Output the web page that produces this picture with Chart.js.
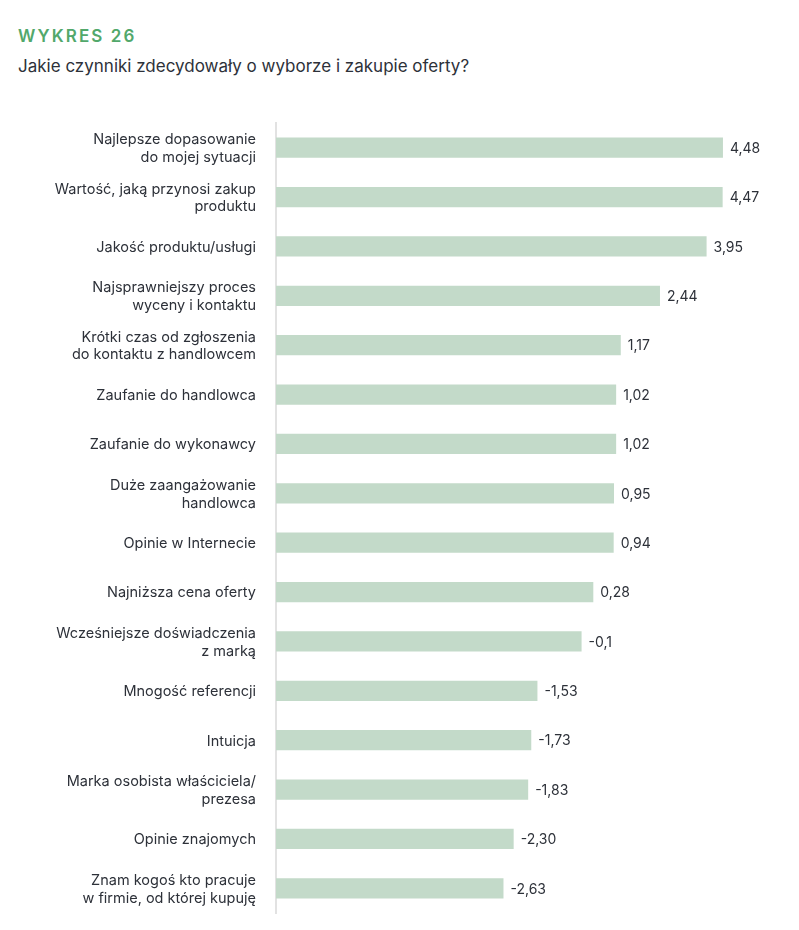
<!DOCTYPE html>
<html lang="pl">
<head>
    <meta charset="UTF-8">
    <title>Wykres 26</title>
    <script src="https://cdn.jsdelivr.net/npm/chart.js"></script>
    <style>
        body { margin: 0; background: #fff; font-family: Inter, sans-serif; }
        .wrap { position: relative; width: 799px; height: 930px; }
        .kicker { position: absolute; left: 18px; top: 26px; font-size: 17px; font-weight: 600; letter-spacing: 2.1px; color: #52a86b; }
        .question { position: absolute; left: 18px; top: 56px; font-size: 17px; color: #2d3139; }
        canvas { position: absolute; left: 0; top: 0; }
    </style>
</head>
<body>
<div class="wrap">
    <div class="kicker">WYKRES 26</div>
    <div class="question">Jakie czynniki zdecydowały o wyborze i zakupie oferty?</div>
    <canvas id="chart" width="799" height="930"></canvas>
</div>
<script>
const factors = [
    ['Najlepsze dopasowanie', 'do mojej sytuacji'],
    ['Wartość, jaką przynosi zakup', 'produktu'],
    'Jakość produktu/usługi',
    ['Najsprawniejszy proces', 'wyceny i kontaktu'],
    ['Krótki czas od zgłoszenia', 'do kontaktu z handlowcem'],
    'Zaufanie do handlowca',
    'Zaufanie do wykonawcy',
    ['Duże zaangażowanie', 'handlowca'],
    'Opinie w Internecie',
    'Najniższa cena oferty',
    ['Wcześniejsze doświadczenia', 'z marką'],
    'Mnogość referencji',
    'Intuicja',
    ['Marka osobista właściciela/', 'prezesa'],
    'Opinie znajomych',
    ['Znam kogoś kto pracuje', 'w firmie, od której kupuję']
];
const scores = [4.48, 4.47, 3.95, 2.44, 1.17, 1.02, 1.02, 0.95, 0.94, 0.28, -0.1, -1.53, -1.73, -1.83, -2.30, -2.63];
const scoreLabels = ['4,48', '4,47', '3,95', '2,44', '1,17', '1,02', '1,02', '0,95', '0,94', '0,28', '-0,1', '-1,53', '-1,73', '-1,83', '-2,30', '-2,63'];

// bars start from the left edge of the scale, not from zero
const scaleMin = -10;
const scaleMax = 5;

const valueLabels = {
    id: 'valueLabels',
    afterDatasetsDraw(chart) {
        const ctx = chart.ctx;
        const meta = chart.getDatasetMeta(0);
        ctx.save();
        ctx.font = '14px Inter, sans-serif';
        ctx.fillStyle = '#2d3139';
        ctx.textAlign = 'left';
        ctx.textBaseline = 'middle';
        meta.data.forEach((bar, i) => {
            ctx.fillText(scoreLabels[i], bar.x + 7, bar.y + 1);
        });
        ctx.restore();
    }
};

new Chart(document.getElementById('chart'), {
    type: 'bar',
    data: {
        labels: factors,
        datasets: [{
            data: scores,
            base: scaleMin,
            backgroundColor: '#c3dac9',
            barPercentage: 0.41,
            categoryPercentage: 1
        }]
    },
    options: {
        indexAxis: 'y',
        responsive: false,
        animation: false,
        layout: { padding: { top: 123, bottom: 17, left: 0, right: 60 } },
        plugins: {
            legend: { display: false },
            tooltip: { enabled: false }
        },
        scales: {
            x: {
                display: false,
                min: scaleMin,
                max: scaleMax
            },
            y: {
                afterFit(scale) {
                    scale.width = 276;
                    scale.paddingTop = 0;
                    scale.paddingBottom = 0;
                },
                grid: { display: false },
                border: { display: true, color: '#e2e2e2', width: 2 },
                ticks: {
                    color: '#2d3139',
                    padding: 12,
                    labelOffset: 1,
                    font: { family: 'Inter, sans-serif', size: 14.5, lineHeight: 1.22 }
                }
            }
        }
    },
    plugins: [valueLabels]
});
</script>
</body>
</html>
